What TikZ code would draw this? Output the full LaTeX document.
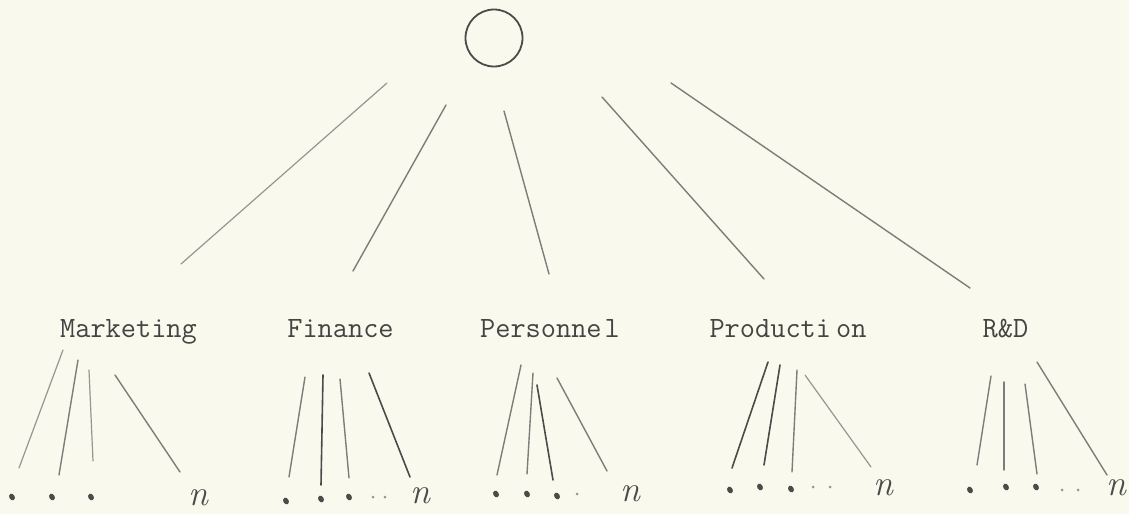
\documentclass[tikz,border=0pt]{standalone}
\usetikzlibrary{shapes.geometric}
\definecolor{bgcol}{RGB}{250,249,238}
\definecolor{linecol}{RGB}{125,125,122}
\definecolor{darkline}{RGB}{75,75,73}
\definecolor{lightline}{RGB}{150,150,146}
\definecolor{textcol}{RGB}{68,68,66}
\tikzset{
  branch/.style={line width=1.4pt, draw=linecol, line cap=round},
  darkbranch/.style={line width=1.6pt, draw=darkline, line cap=round},
  lightbranch/.style={line width=1.2pt, draw=lightline, line cap=round},
  dept/.style={font=\fontsize{29.5}{32}\selectfont\ttfamily, text=textcol, inner sep=0pt, anchor=base},
  bigdot/.style={ellipse, fill=darkline, inner sep=0pt, minimum width=5.5pt, minimum height=7pt, rotate=30},
  smalldot/.style={circle, fill=lightline, inner sep=0pt, minimum size=3pt},
  lastn/.style={font=\fontsize{36}{38}\selectfont\itshape, text=darkline, inner sep=0pt},
  rootnode/.style={circle, draw=darkline, line width=1.8pt, minimum size=57pt, inner sep=0pt}
}
\begin{document}
\begin{tikzpicture}[x=1pt,y=-1pt]
\fill[bgcol] (0,0) rectangle (1129,514);
\useasboundingbox (0,0) rectangle (1129,514);

% root
\node[rootnode] (root) at (494,38) {};

% department labels
\node[dept] (mkt) at (128.5,337) {Marketing};
\node[dept] (fin) at (340.5,337) {Finance};
\node[dept] (per) at (550,337) {Personne\kern3pt l};
\node[dept] (pro) at (788,337) {Producti\kern5pt on};
\node[dept] (rnd) at (1005.5,337) {R\&D};

% top connector ends
\coordinate (tM) at (387,83);  \coordinate (bM) at (181,264);
\coordinate (tF) at (446,105); \coordinate (bF) at (353,271);
\coordinate (tP) at (504,111); \coordinate (bP) at (549,274);
\coordinate (tR) at (602,97);  \coordinate (bR) at (764,279);
\coordinate (tD) at (671,83);  \coordinate (bD) at (970,288);
\draw[lightbranch] (tM) -- (bM);
\draw[branch] (tF) -- (bF);
\draw[branch] (tP) -- (bP);
\draw[branch] (tR) -- (bR);
\draw[branch] (tD) -- (bD);

% Marketing group
\coordinate (m1a) at (63,350);  \coordinate (m1b) at (19,468);
\coordinate (m2a) at (78,360);  \coordinate (m2b) at (59,475);
\coordinate (m3a) at (89,370);  \coordinate (m3b) at (93,461);
\coordinate (m4a) at (115,375); \coordinate (m4b) at (180,472);
\draw[lightbranch] (m1a) -- (m1b);
\draw[branch] (m2a) -- (m2b);
\draw[lightbranch] (m3a) -- (m3b);
\draw[branch] (m4a) -- (m4b);
\node[bigdot] (md1) at (12,497) {};
\node[bigdot] (md2) at (52,497) {};
\node[bigdot] (md3) at (91,497) {};
\node[lastn] (mn) at (198,498) {n};

% Finance group
\coordinate (f1a) at (305,377); \coordinate (f1b) at (289,477);
\coordinate (f2a) at (323,375); \coordinate (f2b) at (321,485);
\coordinate (f3a) at (340,379); \coordinate (f3b) at (349,478);
\coordinate (f4a) at (369,373); \coordinate (f4b) at (410,477);
\draw[branch] (f1a) -- (f1b);
\draw[darkbranch] (f2a) -- (f2b);
\draw[branch] (f3a) -- (f3b);
\draw[darkbranch] (f4a) -- (f4b);
\node[bigdot] (fd1) at (286,501) {};
\node[bigdot] (fd2) at (321,499) {};
\node[bigdot] (fd3) at (349,497) {};
\node[smalldot] (fd4) at (373,497) {};
\node[smalldot] (fd5) at (385,497) {};
\node[lastn] (fn) at (420,496) {n};

% Personnel group
\coordinate (p1a) at (521,365); \coordinate (p1b) at (497,475);
\coordinate (p2a) at (533,373); \coordinate (p2b) at (527,474);
\coordinate (p3a) at (537,385); \coordinate (p3b) at (553,480);
\coordinate (p4a) at (557,378); \coordinate (p4b) at (607,471);
\draw[branch] (p1a) -- (p1b);
\draw[branch] (p2a) -- (p2b);
\draw[darkbranch] (p3a) -- (p3b);
\draw[branch] (p4a) -- (p4b);
\node[bigdot] (pd1) at (496,494) {};
\node[bigdot] (pd2) at (527,494) {};
\node[bigdot] (pd3) at (557,496) {};
\node[smalldot] (pd4) at (577,494) {};
\node[lastn] (pn) at (630,494) {n};

% Production group
\coordinate (r1a) at (768,362); \coordinate (r1b) at (732,468);
\coordinate (r2a) at (780,365); \coordinate (r2b) at (764,465);
\coordinate (r3a) at (797,370); \coordinate (r3b) at (792,472);
\coordinate (r4a) at (805,375); \coordinate (r4b) at (871,467);
\draw[darkbranch] (r1a) -- (r1b);
\draw[darkbranch] (r2a) -- (r2b);
\draw[branch] (r3a) -- (r3b);
\draw[lightbranch] (r4a) -- (r4b);
\node[bigdot] (rd1) at (730,490) {};
\node[bigdot] (rd2) at (760,487) {};
\node[bigdot] (rd3) at (791,489) {};
\node[smalldot] (rd4) at (813,487) {};
\node[smalldot] (rd5) at (830,487) {};
\node[lastn] (rn) at (883,488) {n};

% R&D group
\coordinate (d1a) at (991,376);  \coordinate (d1b) at (977,465);
\coordinate (d2a) at (1004,382); \coordinate (d2b) at (1004,470);
\coordinate (d3a) at (1025,384); \coordinate (d3b) at (1037,474);
\coordinate (d4a) at (1037,362); \coordinate (d4b) at (1107,475);
\draw[branch] (d1a) -- (d1b);
\draw[branch] (d2a) -- (d2b);
\draw[branch] (d3a) -- (d3b);
\draw[branch] (d4a) -- (d4b);
\node[bigdot] (dd1) at (970,490) {};
\node[bigdot] (dd2) at (1006,487) {};
\node[bigdot] (dd3) at (1036,487) {};
\node[smalldot] (dd4) at (1062,490) {};
\node[smalldot] (dd5) at (1078,490) {};
\node[lastn] (dn) at (1116,488) {n};
\end{tikzpicture}
\end{document}
